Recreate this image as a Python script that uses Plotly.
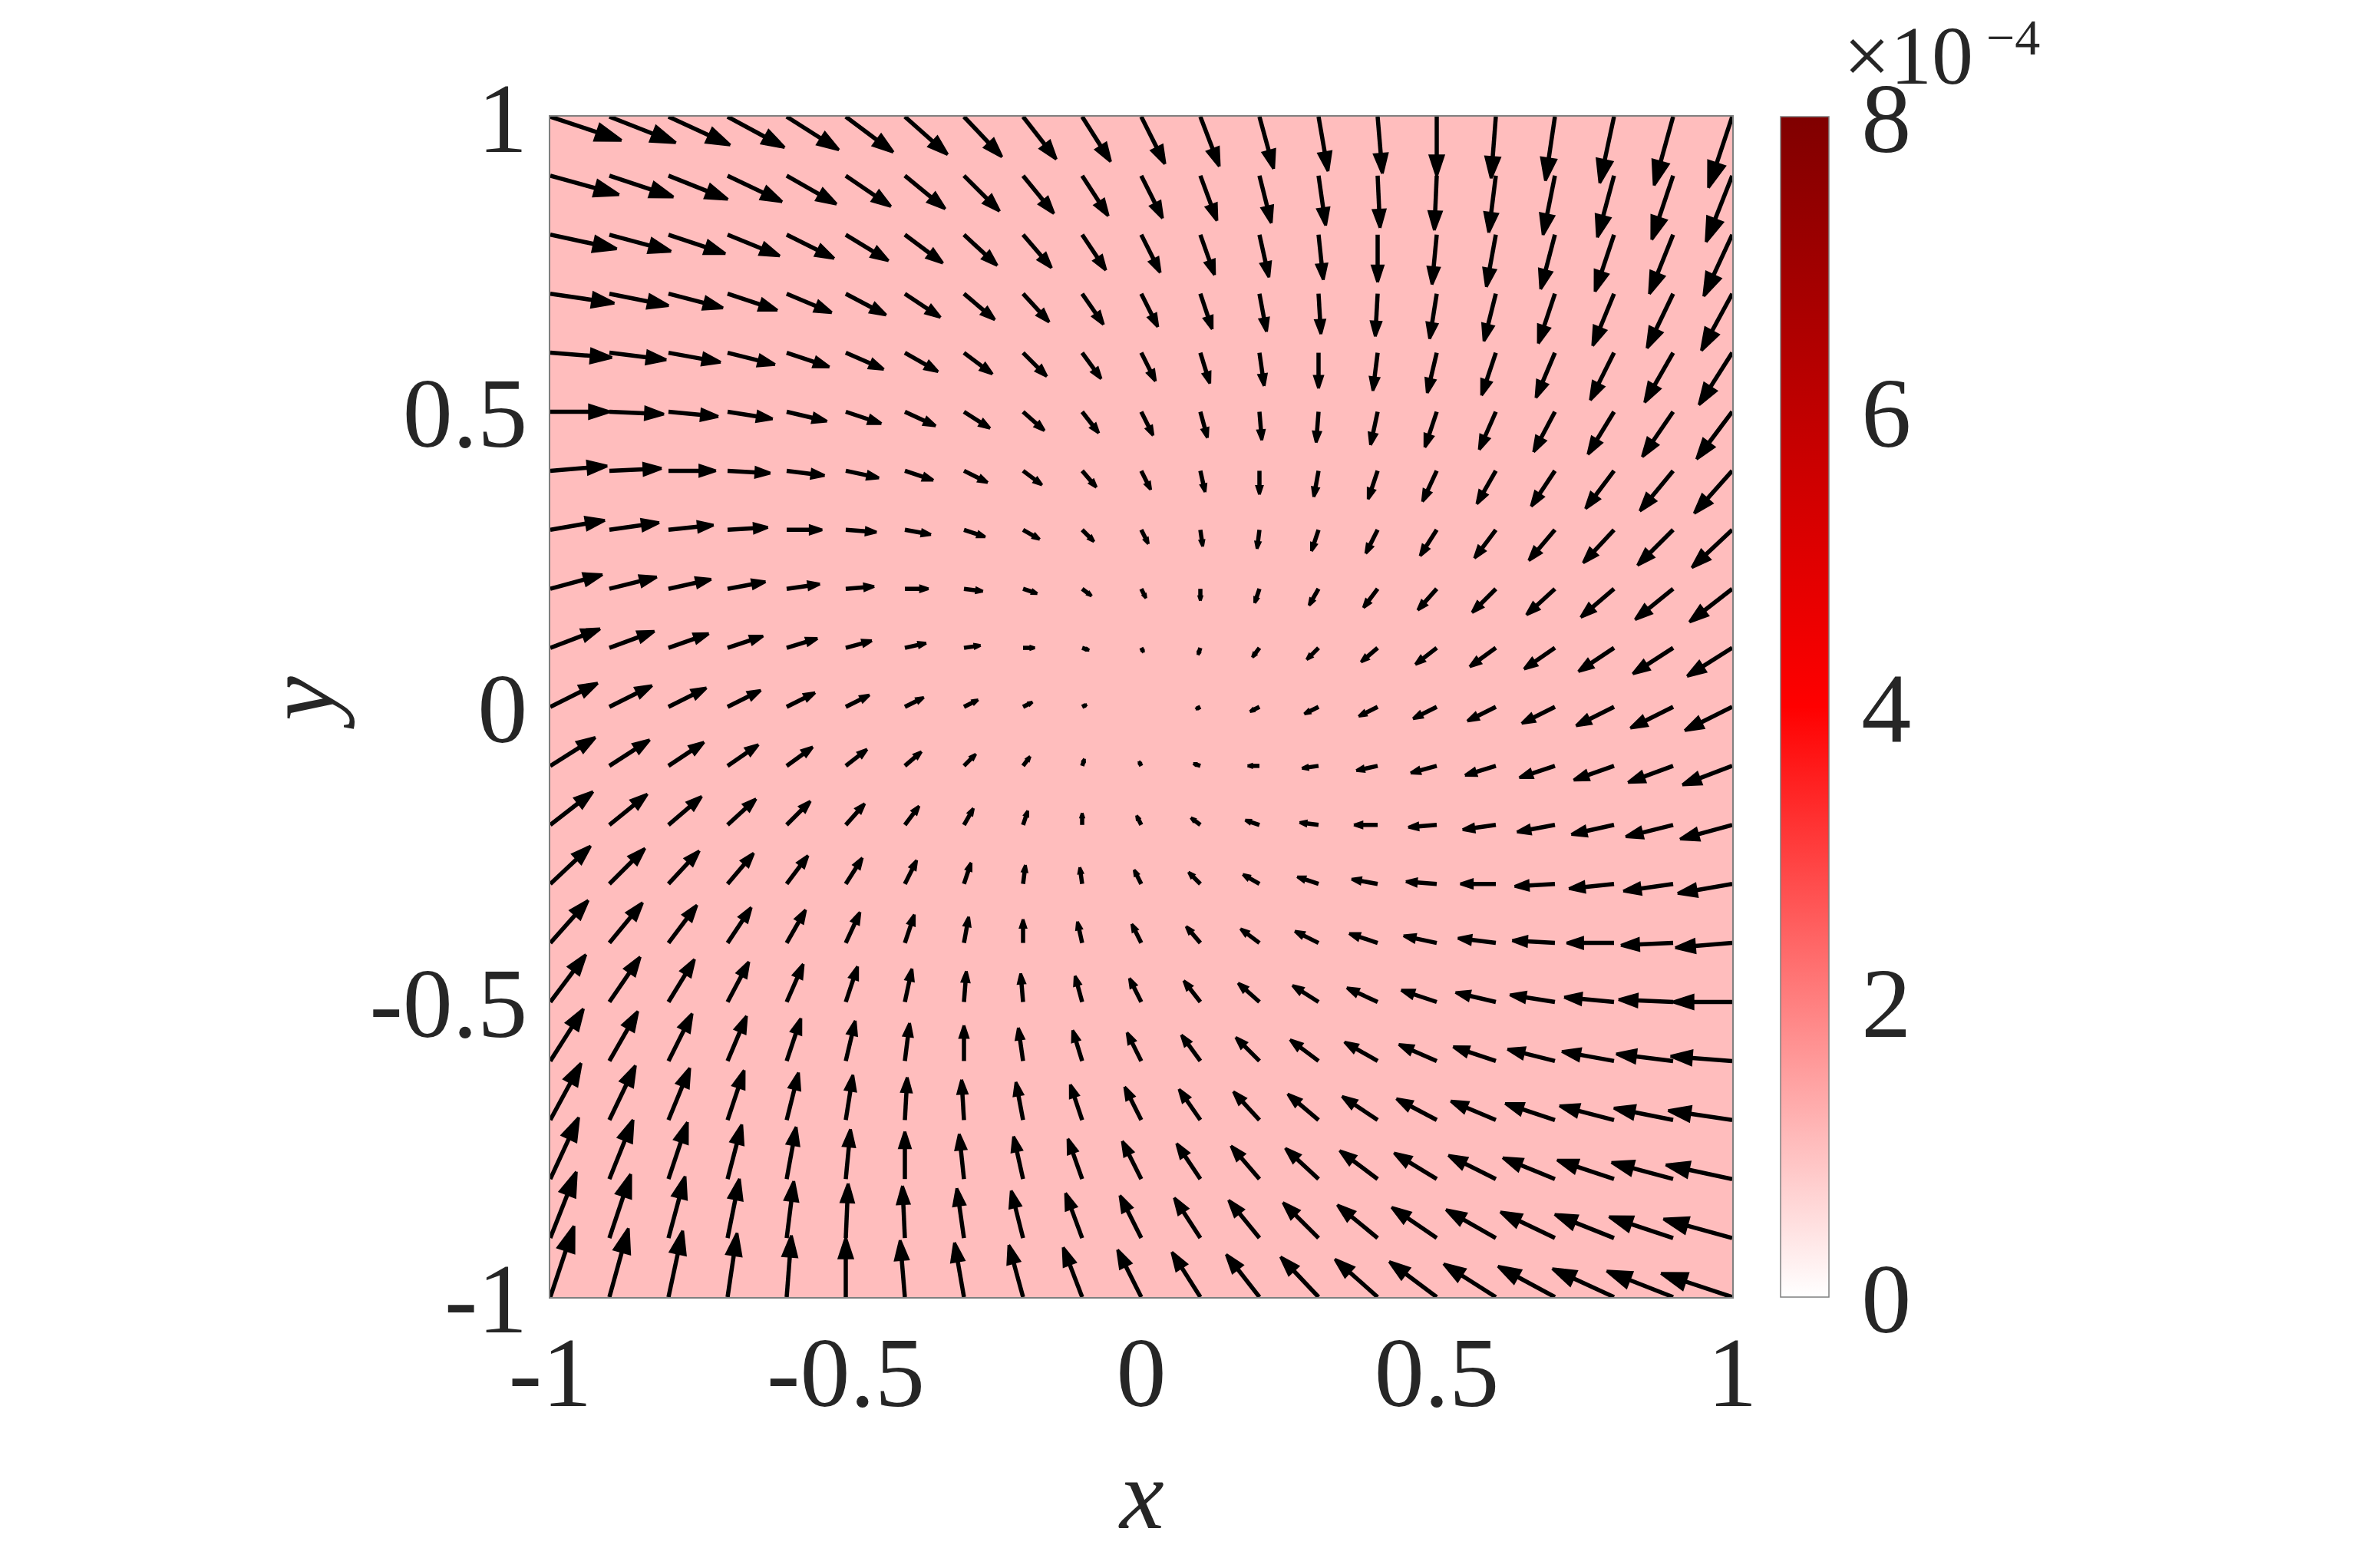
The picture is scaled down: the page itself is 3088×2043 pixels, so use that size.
import numpy as np
import plotly.graph_objects as go

# %% data read off the reference
# grid points (tails of the arrows)
xs = [-1.0, -0.9, -0.8, -0.7, -0.6, -0.5, -0.4, -0.3, -0.2, -0.1, 0.0,
      0.1, 0.2, 0.3, 0.4, 0.5, 0.6, 0.7, 0.8, 0.9, 1.0]
ys = [-1.0, -0.9, -0.8, -0.7, -0.6, -0.5, -0.4, -0.3, -0.2, -0.1, 0.0,
      0.1, 0.2, 0.3, 0.4, 0.5, 0.6, 0.7, 0.8, 0.9, 1.0]

# x-component, one row per y (bottom row first)
u_rows = [
    [1.0, 0.8, 0.6, 0.4, 0.2, 0.0, -0.2, -0.4, -0.6, -0.8, -1.0, -1.2, -1.4, -1.6, -1.8, -2.0, -2.2, -2.4, -2.6, -2.8, -3.0],
    [1.1, 0.9, 0.7, 0.5, 0.3, 0.1, -0.1, -0.3, -0.5, -0.7, -0.9, -1.1, -1.3, -1.5, -1.7, -1.9, -2.1, -2.3, -2.5, -2.7, -2.9],
    [1.2, 1.0, 0.8, 0.6, 0.4, 0.2, 0.0, -0.2, -0.4, -0.6, -0.8, -1.0, -1.2, -1.4, -1.6, -1.8, -2.0, -2.2, -2.4, -2.6, -2.8],
    [1.3, 1.1, 0.9, 0.7, 0.5, 0.3, 0.1, -0.1, -0.3, -0.5, -0.7, -0.9, -1.1, -1.3, -1.5, -1.7, -1.9, -2.1, -2.3, -2.5, -2.7],
    [1.4, 1.2, 1.0, 0.8, 0.6, 0.4, 0.2, 0.0, -0.2, -0.4, -0.6, -0.8, -1.0, -1.2, -1.4, -1.6, -1.8, -2.0, -2.2, -2.4, -2.6],
    [1.5, 1.3, 1.1, 0.9, 0.7, 0.5, 0.3, 0.1, -0.1, -0.3, -0.5, -0.7, -0.9, -1.1, -1.3, -1.5, -1.7, -1.9, -2.1, -2.3, -2.5],
    [1.6, 1.4, 1.2, 1.0, 0.8, 0.6, 0.4, 0.2, 0.0, -0.2, -0.4, -0.6, -0.8, -1.0, -1.2, -1.4, -1.6, -1.8, -2.0, -2.2, -2.4],
    [1.7, 1.5, 1.3, 1.1, 0.9, 0.7, 0.5, 0.3, 0.1, -0.1, -0.3, -0.5, -0.7, -0.9, -1.1, -1.3, -1.5, -1.7, -1.9, -2.1, -2.3],
    [1.8, 1.6, 1.4, 1.2, 1.0, 0.8, 0.6, 0.4, 0.2, 0.0, -0.2, -0.4, -0.6, -0.8, -1.0, -1.2, -1.4, -1.6, -1.8, -2.0, -2.2],
    [1.9, 1.7, 1.5, 1.3, 1.1, 0.9, 0.7, 0.5, 0.3, 0.1, -0.1, -0.3, -0.5, -0.7, -0.9, -1.1, -1.3, -1.5, -1.7, -1.9, -2.1],
    [2.0, 1.8, 1.6, 1.4, 1.2, 1.0, 0.8, 0.6, 0.4, 0.2, 0.0, -0.2, -0.4, -0.6, -0.8, -1.0, -1.2, -1.4, -1.6, -1.8, -2.0],
    [2.1, 1.9, 1.7, 1.5, 1.3, 1.1, 0.9, 0.7, 0.5, 0.3, 0.1, -0.1, -0.3, -0.5, -0.7, -0.9, -1.1, -1.3, -1.5, -1.7, -1.9],
    [2.2, 2.0, 1.8, 1.6, 1.4, 1.2, 1.0, 0.8, 0.6, 0.4, 0.2, 0.0, -0.2, -0.4, -0.6, -0.8, -1.0, -1.2, -1.4, -1.6, -1.8],
    [2.3, 2.1, 1.9, 1.7, 1.5, 1.3, 1.1, 0.9, 0.7, 0.5, 0.3, 0.1, -0.1, -0.3, -0.5, -0.7, -0.9, -1.1, -1.3, -1.5, -1.7],
    [2.4, 2.2, 2.0, 1.8, 1.6, 1.4, 1.2, 1.0, 0.8, 0.6, 0.4, 0.2, 0.0, -0.2, -0.4, -0.6, -0.8, -1.0, -1.2, -1.4, -1.6],
    [2.5, 2.3, 2.1, 1.9, 1.7, 1.5, 1.3, 1.1, 0.9, 0.7, 0.5, 0.3, 0.1, -0.1, -0.3, -0.5, -0.7, -0.9, -1.1, -1.3, -1.5],
    [2.6, 2.4, 2.2, 2.0, 1.8, 1.6, 1.4, 1.2, 1.0, 0.8, 0.6, 0.4, 0.2, 0.0, -0.2, -0.4, -0.6, -0.8, -1.0, -1.2, -1.4],
    [2.7, 2.5, 2.3, 2.1, 1.9, 1.7, 1.5, 1.3, 1.1, 0.9, 0.7, 0.5, 0.3, 0.1, -0.1, -0.3, -0.5, -0.7, -0.9, -1.1, -1.3],
    [2.8, 2.6, 2.4, 2.2, 2.0, 1.8, 1.6, 1.4, 1.2, 1.0, 0.8, 0.6, 0.4, 0.2, 0.0, -0.2, -0.4, -0.6, -0.8, -1.0, -1.2],
    [2.9, 2.7, 2.5, 2.3, 2.1, 1.9, 1.7, 1.5, 1.3, 1.1, 0.9, 0.7, 0.5, 0.3, 0.1, -0.1, -0.3, -0.5, -0.7, -0.9, -1.1],
    [3.0, 2.8, 2.6, 2.4, 2.2, 2.0, 1.8, 1.6, 1.4, 1.2, 1.0, 0.8, 0.6, 0.4, 0.2, 0.0, -0.2, -0.4, -0.6, -0.8, -1.0],
]

# y-component, same layout
v_rows = [
    [3.0, 2.9, 2.8, 2.7, 2.6, 2.5, 2.4, 2.3, 2.2, 2.1, 2.0, 1.9, 1.8, 1.7, 1.6, 1.5, 1.4, 1.3, 1.2, 1.1, 1.0],
    [2.8, 2.7, 2.6, 2.5, 2.4, 2.3, 2.2, 2.1, 2.0, 1.9, 1.8, 1.7, 1.6, 1.5, 1.4, 1.3, 1.2, 1.1, 1.0, 0.9, 0.8],
    [2.6, 2.5, 2.4, 2.3, 2.2, 2.1, 2.0, 1.9, 1.8, 1.7, 1.6, 1.5, 1.4, 1.3, 1.2, 1.1, 1.0, 0.9, 0.8, 0.7, 0.6],
    [2.4, 2.3, 2.2, 2.1, 2.0, 1.9, 1.8, 1.7, 1.6, 1.5, 1.4, 1.3, 1.2, 1.1, 1.0, 0.9, 0.8, 0.7, 0.6, 0.5, 0.4],
    [2.2, 2.1, 2.0, 1.9, 1.8, 1.7, 1.6, 1.5, 1.4, 1.3, 1.2, 1.1, 1.0, 0.9, 0.8, 0.7, 0.6, 0.5, 0.4, 0.3, 0.2],
    [2.0, 1.9, 1.8, 1.7, 1.6, 1.5, 1.4, 1.3, 1.2, 1.1, 1.0, 0.9, 0.8, 0.7, 0.6, 0.5, 0.4, 0.3, 0.2, 0.1, 0.0],
    [1.8, 1.7, 1.6, 1.5, 1.4, 1.3, 1.2, 1.1, 1.0, 0.9, 0.8, 0.7, 0.6, 0.5, 0.4, 0.3, 0.2, 0.1, 0.0, -0.1, -0.2],
    [1.6, 1.5, 1.4, 1.3, 1.2, 1.1, 1.0, 0.9, 0.8, 0.7, 0.6, 0.5, 0.4, 0.3, 0.2, 0.1, 0.0, -0.1, -0.2, -0.3, -0.4],
    [1.4, 1.3, 1.2, 1.1, 1.0, 0.9, 0.8, 0.7, 0.6, 0.5, 0.4, 0.3, 0.2, 0.1, 0.0, -0.1, -0.2, -0.3, -0.4, -0.5, -0.6],
    [1.2, 1.1, 1.0, 0.9, 0.8, 0.7, 0.6, 0.5, 0.4, 0.3, 0.2, 0.1, 0.0, -0.1, -0.2, -0.3, -0.4, -0.5, -0.6, -0.7, -0.8],
    [1.0, 0.9, 0.8, 0.7, 0.6, 0.5, 0.4, 0.3, 0.2, 0.1, 0.0, -0.1, -0.2, -0.3, -0.4, -0.5, -0.6, -0.7, -0.8, -0.9, -1.0],
    [0.8, 0.7, 0.6, 0.5, 0.4, 0.3, 0.2, 0.1, 0.0, -0.1, -0.2, -0.3, -0.4, -0.5, -0.6, -0.7, -0.8, -0.9, -1.0, -1.1, -1.2],
    [0.6, 0.5, 0.4, 0.3, 0.2, 0.1, 0.0, -0.1, -0.2, -0.3, -0.4, -0.5, -0.6, -0.7, -0.8, -0.9, -1.0, -1.1, -1.2, -1.3, -1.4],
    [0.4, 0.3, 0.2, 0.1, 0.0, -0.1, -0.2, -0.3, -0.4, -0.5, -0.6, -0.7, -0.8, -0.9, -1.0, -1.1, -1.2, -1.3, -1.4, -1.5, -1.6],
    [0.2, 0.1, 0.0, -0.1, -0.2, -0.3, -0.4, -0.5, -0.6, -0.7, -0.8, -0.9, -1.0, -1.1, -1.2, -1.3, -1.4, -1.5, -1.6, -1.7, -1.8],
    [0.0, -0.1, -0.2, -0.3, -0.4, -0.5, -0.6, -0.7, -0.8, -0.9, -1.0, -1.1, -1.2, -1.3, -1.4, -1.5, -1.6, -1.7, -1.8, -1.9, -2.0],
    [-0.2, -0.3, -0.4, -0.5, -0.6, -0.7, -0.8, -0.9, -1.0, -1.1, -1.2, -1.3, -1.4, -1.5, -1.6, -1.7, -1.8, -1.9, -2.0, -2.1, -2.2],
    [-0.4, -0.5, -0.6, -0.7, -0.8, -0.9, -1.0, -1.1, -1.2, -1.3, -1.4, -1.5, -1.6, -1.7, -1.8, -1.9, -2.0, -2.1, -2.2, -2.3, -2.4],
    [-0.6, -0.7, -0.8, -0.9, -1.0, -1.1, -1.2, -1.3, -1.4, -1.5, -1.6, -1.7, -1.8, -1.9, -2.0, -2.1, -2.2, -2.3, -2.4, -2.5, -2.6],
    [-0.8, -0.9, -1.0, -1.1, -1.2, -1.3, -1.4, -1.5, -1.6, -1.7, -1.8, -1.9, -2.0, -2.1, -2.2, -2.3, -2.4, -2.5, -2.6, -2.7, -2.8],
    [-1.0, -1.1, -1.2, -1.3, -1.4, -1.5, -1.6, -1.7, -1.8, -1.9, -2.0, -2.1, -2.2, -2.3, -2.4, -2.5, -2.6, -2.7, -2.8, -2.9, -3.0],
]

# background field (uniform over the square), colour limits of the bar
bg_edges = [-1.0, 1.0]
bg_level = [[1.03e-4]]
c_min, c_max = 0.0, 8e-4
cbar_ticks = [0.0, 2e-4, 4e-4, 6e-4, 8e-4]
cbar_labels = ['0', '2', '4', '6', '8']
axis_ticks = [-1, -0.5, 0, 0.5, 1]
axis_labels = ['-1', '-0.5', '0', '0.5', '1']

# %% figure geometry (pixels); the page adds an 8px body margin
W, H = 3088, 2043
OFF = 8
ML, MT = 717 - OFF, 152 - OFF
PW, PH = 1540, 1538
MR, MB = W - ML - PW, H - MT - PH


def fx(X):
    # screenshot pixel -> paper x
    return (X - OFF - ML) / PW


def fy(Y):
    # screenshot pixel -> paper y
    return (MT + PH - (Y - OFF)) / PH


FONT = 'Liberation Serif'
TXT = '#262626'
FS = 130

# arrow scaling (data units per unit of field), head proportions
SCALE = 0.0402
HEAD_LEN = 0.34
HEAD_HALF = 0.112


def quiver_paths(xs, ys, u_rows, v_rows):
    sx, sy, hx, hy = [], [], [], []
    for i, y0 in enumerate(ys):
        for j, x0 in enumerate(xs):
            dx = u_rows[i][j] * SCALE
            dy = v_rows[i][j] * SCALE
            L = np.hypot(dx, dy)
            if L < 1e-9:
                continue
            ex, ey = dx / L, dy / L
            tx, ty = x0 + dx, y0 + dy
            h = HEAD_LEN * L
            w = HEAD_HALF * L
            bx, by = tx - h * ex, ty - h * ey
            # shaft stops inside the head
            sx += [x0, tx - 0.8 * h * ex, None]
            sy += [y0, ty - 0.8 * h * ey, None]
            hx += [tx, bx - w * ey, bx + w * ey, tx, None]
            hy += [ty, by + w * ex, by - w * ex, ty, None]
    return sx, sy, hx, hy


sx, sy, hx, hy = quiver_paths(xs, ys, u_rows, v_rows)

cb_x = fx(2320)
cb_thick = 63
cb_right = cb_x + cb_thick / PW

fig = go.Figure()

fig.add_trace(go.Heatmap(
    x=bg_edges, y=bg_edges, z=bg_level,
    zmin=c_min, zmax=c_max,
    colorscale=[[0.0, '#ffffff'], [0.5, '#ff0000'], [1.0, '#800000']],
    hoverinfo='skip',
    colorbar=dict(
        x=cb_x, xanchor='left', xpad=0, ypad=0,
        y=0.5, yanchor='middle', len=1.0, lenmode='fraction',
        thickness=cb_thick, thicknessmode='pixels',
        outlinecolor='#7f7f7f', outlinewidth=1.5,
        tickvals=cbar_ticks, ticktext=cbar_labels,
        ticks='outside', ticklen=16, tickcolor='rgba(0,0,0,0)',
        tickfont=dict(family=FONT, size=FS, color=TXT),
    ),
))

fig.add_trace(go.Scatter(
    x=sx, y=sy, mode='lines',
    line=dict(color='black', width=5.5),
    hoverinfo='skip', showlegend=False,
))
fig.add_trace(go.Scatter(
    x=hx, y=hy, mode='lines', fill='toself', fillcolor='black',
    line=dict(color='black', width=3.5),
    hoverinfo='skip', showlegend=False,
))

axis_common = dict(
    range=[-1, 1], tickvals=axis_ticks, ticktext=axis_labels,
    showgrid=False, zeroline=False, ticks='',
    showline=True, mirror=True, linecolor='#7f7f7f', linewidth=1.5,
    tickfont=dict(family=FONT, size=FS, color=TXT),
)

# small inner ticks on the colour bar
shapes = []
for t in cbar_ticks[1:-1]:
    yy = (t - c_min) / (c_max - c_min)
    shapes.append(dict(type='line', xref='paper', yref='paper',
                       x0=cb_right - 12 / PW, x1=cb_right, y0=yy, y1=yy,
                       line=dict(color='#262626', width=2)))

fig.update_layout(
    width=W, height=H,
    margin=dict(l=ML, r=MR, t=MT, b=MB),
    paper_bgcolor='white', plot_bgcolor='white',
    xaxis=dict(axis_common, ticklabelstandoff=-16),
    yaxis=dict(axis_common, ticklabelstandoff=2),
    showlegend=False,
    shapes=shapes,
    annotations=[
        dict(text='<i>x</i>', xref='paper', yref='paper',
             x=fx(1487), y=fy(1947),
             xanchor='center', yanchor='middle', showarrow=False,
             font=dict(family=FONT, size=FS, color=TXT)),
        dict(text='<i>y</i>', xref='paper', yref='paper',
             x=fx(390), y=fy(916),
             xanchor='center', yanchor='middle', showarrow=False, textangle=-90,
             font=dict(family=FONT, size=FS, color=TXT)),
        dict(text='×10', xref='paper', yref='paper',
             x=fx(2400), y=fy(72),
             xanchor='left', yanchor='middle', showarrow=False,
             font=dict(family=FONT, size=108, color=TXT)),
        dict(text='−4', xref='paper', yref='paper',
             x=fx(2586), y=fy(48),
             xanchor='left', yanchor='middle', showarrow=False,
             font=dict(family=FONT, size=66, color=TXT)),
    ],
)

fig.write_html("out.html")
